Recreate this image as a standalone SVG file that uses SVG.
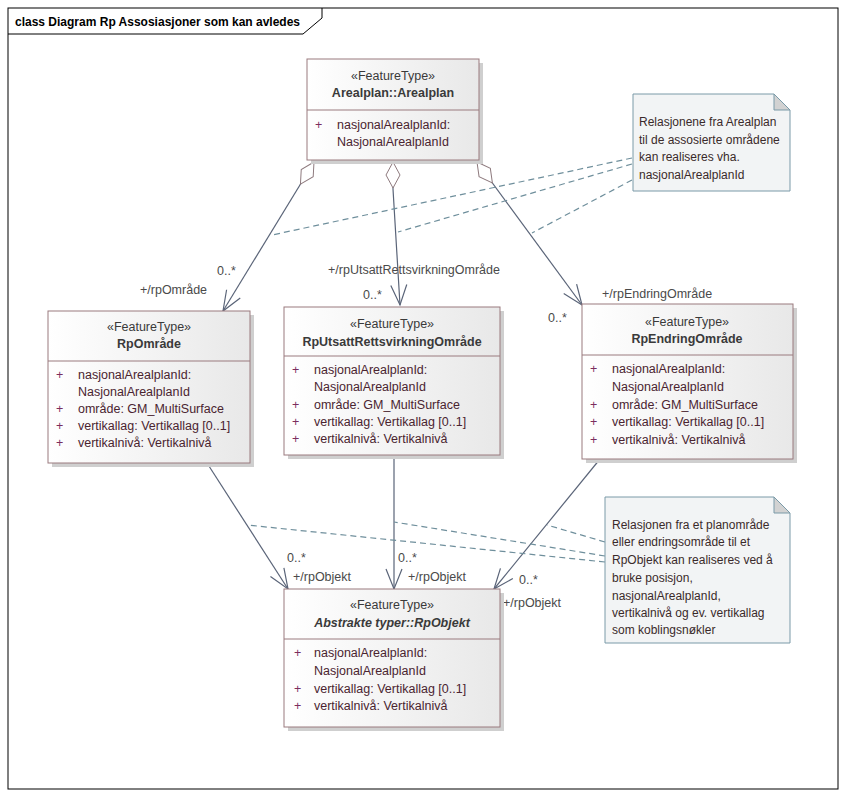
<svg xmlns="http://www.w3.org/2000/svg" width="846" height="797" viewBox="0 0 846 797">
<defs>
  <linearGradient id="boxfill" x1="0" y1="0" x2="1" y2="0">
    <stop offset="0" stop-color="#ffffff"/>
    <stop offset="1" stop-color="#e8e8e8"/>
  </linearGradient>
  <marker id="diamond" markerUnits="userSpaceOnUse" markerWidth="30" markerHeight="18" viewBox="-1 -9 30 18" refX="0" refY="0" orient="auto">
    <path d="M0,0 L13,-7 L26,0 L13,7 Z" fill="#ffffff" stroke="#8e7a7e" stroke-width="1"/>
  </marker>
  <marker id="open" markerUnits="userSpaceOnUse" markerWidth="24" markerHeight="20" viewBox="-22 -10 24 20" refX="0" refY="0" orient="auto">
    <path d="M-20,-8 L0,0 L-20,8" fill="none" stroke="#5a6478" stroke-width="1.2"/>
  </marker>
</defs>
<style>
  text { font-family: "Liberation Sans", Arial, sans-serif; font-size: 12.5px; }
  .frame { fill: #ffffff; stroke: #000000; stroke-width: 1; }
  .title { font-weight: bold; font-size: 12px; fill: #000000; }
  .shadow { fill: #cfcfcf; }
  .box { fill: url(#boxfill); stroke: #9a7a7e; stroke-width: 1; }
  .div { stroke: #9a7a7e; stroke-width: 1; }
  .stereo { fill: #3a3a3a; text-anchor: middle; }
  .name { fill: #3a3a3a; text-anchor: middle; font-weight: bold; }
  .abstract { font-style: italic; }
  .vis { fill: #7a2e5e; }
  .attr { fill: #4a2430; }
  .conn { fill: none; stroke: #5a6478; stroke-width: 1.2; }
  .dash { fill: none; stroke: #6f8f9c; stroke-width: 1.2; stroke-dasharray: 6 4; }
  .lbl { fill: #4a4a4a; }
  .note { fill: #f2f4f5; stroke: #7a9aa8; stroke-width: 1; }
  .fold { fill: #d2d2d2; stroke: #7a9aa8; stroke-width: 1; }
  .ntext { fill: #3a2a2a; font-size: 12px; }
</style>

<g id="frame">
  <rect class="frame" x="8" y="8" width="830" height="781"/>
  <path d="M8,34 H303 L322,18 V8" fill="none" stroke="#000000" stroke-width="1"/>
  <text class="title" x="15" y="26">class Diagram Rp Assosiasjoner som kan avledes</text>
</g>

<g id="connectors">
  <path class="conn" d="M314,162 L223,311" marker-start="url(#diamond)" marker-end="url(#open)"/>
  <path class="conn" d="M393,162 L393,189 L400,305" marker-start="url(#diamond)" marker-end="url(#open)"/>
  <path class="conn" d="M477,162 L582,305" marker-start="url(#diamond)" marker-end="url(#open)"/>
  <path class="conn" d="M207,463 L288,589" marker-end="url(#open)"/>
  <path class="conn" d="M394,455 L394,589" marker-end="url(#open)"/>
  <path class="conn" d="M600,459 L494,589" marker-end="url(#open)"/>
  <path class="dash" d="M632,158 L272,235"/>
  <path class="dash" d="M632,164 L398,232"/>
  <path class="dash" d="M632,180 L532,233"/>
  <path class="dash" d="M605,542 L547,525"/>
  <path class="dash" d="M605,556 L394,522"/>
  <path class="dash" d="M605,562 L247,525"/>
  <text class="lbl" x="217" y="275">0..*</text>
  <text class="lbl" x="140" y="294">+/rpOmråde</text>
  <text class="lbl" x="328" y="274">+/rpUtsattRettsvirkningOmråde</text>
  <text class="lbl" x="363" y="299">0..*</text>
  <text class="lbl" x="548" y="322">0..*</text>
  <text class="lbl" x="602" y="298">+/rpEndringOmråde</text>
  <text class="lbl" x="287" y="562">0..*</text>
  <text class="lbl" x="293" y="581">+/rpObjekt</text>
  <text class="lbl" x="398" y="562">0..*</text>
  <text class="lbl" x="408" y="581">+/rpObjekt</text>
  <text class="lbl" x="519" y="584">0..*</text>
  <text class="lbl" x="503" y="607">+/rpObjekt</text>
</g>

<g id="Arealplan">
  <rect class="shadow" x="311" y="63" width="172" height="101"/>
  <rect class="box" x="307" y="59" width="172" height="101"/>
  <line class="div" x1="307" y1="110" x2="479" y2="110"/>
  <text class="stereo" x="393" y="80">«FeatureType»</text>
  <text class="name" x="393" y="97">Arealplan::Arealplan</text>
  <text class="vis" x="315" y="129">+</text>
  <text class="attr" x="337" y="129">nasjonalArealplanId:</text>
  <text class="attr" x="337" y="146">NasjonalArealplanId</text>
</g>

<g id="RpOmrade">
  <rect class="shadow" x="52" y="315" width="202" height="152"/>
  <rect class="box" x="48" y="311" width="202" height="152"/>
  <line class="div" x1="48" y1="361" x2="250" y2="361"/>
  <text class="stereo" x="149" y="331">«FeatureType»</text>
  <text class="name" x="149" y="348">RpOmråde</text>
  <text class="vis" x="56" y="379">+</text>
  <text class="attr" x="78" y="379">nasjonalArealplanId:</text>
  <text class="attr" x="78" y="396">NasjonalArealplanId</text>
  <text class="vis" x="56" y="413">+</text>
  <text class="attr" x="78" y="413">område: GM_MultiSurface</text>
  <text class="vis" x="56" y="430">+</text>
  <text class="attr" x="78" y="430">vertikallag: Vertikallag [0..1]</text>
  <text class="vis" x="56" y="447">+</text>
  <text class="attr" x="78" y="447">vertikalnivå: Vertikalnivå</text>
</g>

<g id="RpUtsattRettsvirkningOmrade">
  <rect class="shadow" x="288" y="311" width="216" height="148"/>
  <rect class="box" x="284" y="307" width="216" height="148"/>
  <line class="div" x1="284" y1="356" x2="500" y2="356"/>
  <text class="stereo" x="392" y="328">«FeatureType»</text>
  <text class="name" x="392" y="346">RpUtsattRettsvirkningOmråde</text>
  <text class="vis" x="292" y="374">+</text>
  <text class="attr" x="314" y="374">nasjonalArealplanId:</text>
  <text class="attr" x="314" y="391">NasjonalArealplanId</text>
  <text class="vis" x="292" y="409">+</text>
  <text class="attr" x="314" y="409">område: GM_MultiSurface</text>
  <text class="vis" x="292" y="426">+</text>
  <text class="attr" x="314" y="426">vertikallag: Vertikallag [0..1]</text>
  <text class="vis" x="292" y="443">+</text>
  <text class="attr" x="314" y="443">vertikalnivå: Vertikalnivå</text>
</g>

<g id="RpEndringOmrade">
  <rect class="shadow" x="586" y="308" width="211" height="155"/>
  <rect class="box" x="582" y="304" width="211" height="155"/>
  <line class="div" x1="582" y1="355" x2="793" y2="355"/>
  <text class="stereo" x="687" y="326">«FeatureType»</text>
  <text class="name" x="687" y="343">RpEndringOmråde</text>
  <text class="vis" x="590" y="373">+</text>
  <text class="attr" x="612" y="373">nasjonalArealplanId:</text>
  <text class="attr" x="612" y="391">NasjonalArealplanId</text>
  <text class="vis" x="590" y="409">+</text>
  <text class="attr" x="612" y="409">område: GM_MultiSurface</text>
  <text class="vis" x="590" y="426">+</text>
  <text class="attr" x="612" y="426">vertikallag: Vertikallag [0..1]</text>
  <text class="vis" x="590" y="444">+</text>
  <text class="attr" x="612" y="444">vertikalnivå: Vertikalnivå</text>
</g>

<g id="RpObjekt">
  <rect class="shadow" x="288" y="593" width="216" height="138"/>
  <rect class="box" x="284" y="589" width="216" height="138"/>
  <line class="div" x1="284" y1="639" x2="500" y2="639"/>
  <text class="stereo" x="392" y="609">«FeatureType»</text>
  <text class="name abstract" x="392" y="627">Abstrakte typer::RpObjekt</text>
  <text class="vis" x="294" y="657">+</text>
  <text class="attr" x="314" y="657">nasjonalArealplanId:</text>
  <text class="attr" x="314" y="675">NasjonalArealplanId</text>
  <text class="vis" x="294" y="693">+</text>
  <text class="attr" x="314" y="693">vertikallag: Vertikallag [0..1]</text>
  <text class="vis" x="294" y="710">+</text>
  <text class="attr" x="314" y="710">vertikalnivå: Vertikalnivå</text>
</g>

<g id="note1">
  <path class="note" d="M633,94 H774 L790,110 V191 H633 Z"/>
  <path class="fold" d="M774,94 V110 H790 Z"/>
  <text class="ntext" x="639" y="126">Relasjonene fra Arealplan</text>
  <text class="ntext" x="639" y="144">til de assosierte områdene</text>
  <text class="ntext" x="639" y="161">kan realiseres vha.</text>
  <text class="ntext" x="639" y="179">nasjonalArealplanId</text>
</g>

<g id="note2">
  <path class="note" d="M605,497 H774 L790,513 V643 H605 Z"/>
  <path class="fold" d="M774,497 V513 H790 Z"/>
  <text class="ntext" x="612" y="529">Relasjonen fra et planområde</text>
  <text class="ntext" x="612" y="546">eller endringsområde til et</text>
  <text class="ntext" x="612" y="564">RpObjekt kan realiseres ved å</text>
  <text class="ntext" x="612" y="582">bruke posisjon,</text>
  <text class="ntext" x="612" y="600">nasjonalArealplanId,</text>
  <text class="ntext" x="612" y="617">vertikalnivå og ev. vertikallag</text>
  <text class="ntext" x="612" y="634">som koblingsnøkler</text>
</g>
</svg>
